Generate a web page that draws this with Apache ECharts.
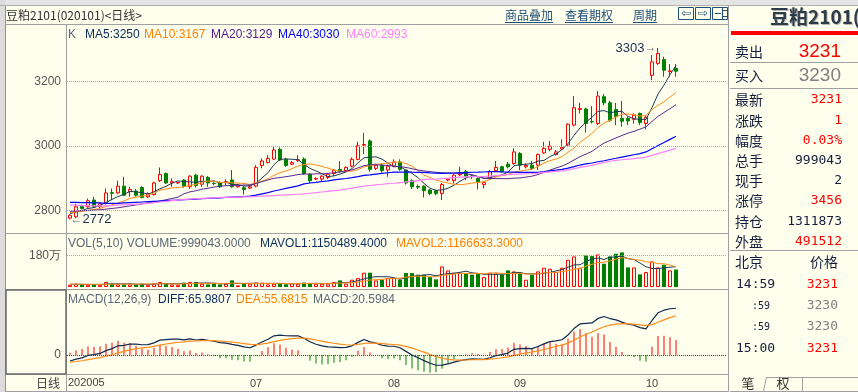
<!DOCTYPE html>
<html>
<head>
<meta charset="utf-8">
<title>豆粕2101 日线</title>
<script src="https://cdn.jsdelivr.net/npm/echarts@6.0.0/dist/echarts.min.js"></script>
<style>
  html, body { margin: 0; padding: 0; background: #FFFFEE; }
  #main { width: 858px; height: 392px; }
</style>
</head>
<body>
<div id="main"></div>
<script>
// trading days on screen
var dates = [
  '2020-05-15','2020-05-18','2020-05-19','2020-05-20','2020-05-21','2020-05-22','2020-05-25','2020-05-26','2020-05-27','2020-05-28','2020-05-29',
  '2020-06-01','2020-06-02','2020-06-03','2020-06-04','2020-06-05','2020-06-08','2020-06-09','2020-06-10','2020-06-11','2020-06-12',
  '2020-06-15','2020-06-16','2020-06-17','2020-06-18','2020-06-19','2020-06-22','2020-06-23','2020-06-24','2020-06-29','2020-06-30',
  '2020-07-01','2020-07-02','2020-07-03','2020-07-06','2020-07-07','2020-07-08','2020-07-09','2020-07-10','2020-07-13','2020-07-14',
  '2020-07-15','2020-07-16','2020-07-17','2020-07-20','2020-07-21','2020-07-22','2020-07-23','2020-07-24','2020-07-27','2020-07-28',
  '2020-07-29','2020-07-30','2020-07-31',
  '2020-08-03','2020-08-04','2020-08-05','2020-08-06','2020-08-07','2020-08-10','2020-08-11','2020-08-12','2020-08-13','2020-08-14',
  '2020-08-17','2020-08-18','2020-08-19','2020-08-20','2020-08-21','2020-08-24','2020-08-25','2020-08-26','2020-08-27','2020-08-28','2020-08-31',
  '2020-09-01','2020-09-02','2020-09-03','2020-09-04','2020-09-07','2020-09-08','2020-09-09','2020-09-10','2020-09-11','2020-09-14',
  '2020-09-15','2020-09-16','2020-09-17','2020-09-18','2020-09-21','2020-09-22','2020-09-23','2020-09-24','2020-09-25','2020-09-28',
  '2020-09-29','2020-09-30',
  '2020-10-09','2020-10-12','2020-10-13','2020-10-14','2020-10-15'
];
// months that get a label on the date axis (the first day carries "202005")
var monthLabels = ['07', '08', '09', '10'];

// daily bars
var opens = [2776,2780,2813,2811,2832,2811,2821,2855,2854,2875,
  2858,2860,2871,2842,2849,2892,2914,2885,2885,2894,
  2873,2909,2881,2902,2884,2885,2886,2894,2873,2870,
  2869,2875,2939,2948,2959,2989,2958,2943,2954,2959,
  2912,2897,2897,2902,2914,2927,2923,2937,2958,3002,
  3015,2930,2940,2925,2937,2950,2925,2892,2874,2875,
  2863,2861,2852,2894,2892,2910,2920,2907,2899,2880,
  2899,2923,2935,2943,2945,2976,2935,2940,2940,2978,
  2989,2973,2990,3002,3064,3112,3114,3075,3069,3152,
  3133,3112,3085,3085,3082,3100,3069,3218,3255,3267,
  3230,3240];
var closes = [2785,2811,2806,2830,2811,2821,2854,2853,2875,2847,
  2865,2847,2840,2852,2885,2911,2885,2889,2886,2875,
  2906,2877,2906,2885,2883,2873,2889,2873,2878,2865,
  2873,2933,2953,2961,2987,2956,2939,2948,2957,2914,
  2892,2899,2906,2912,2925,2920,2933,2958,3000,3004,
  2927,2940,2923,2937,2950,2927,2885,2873,2872,2861,
  2852,2852,2880,2897,2909,2912,2906,2905,2889,2886,
  2920,2933,2920,2935,2981,2940,2939,2930,2973,2992,
  2999,2981,2995,3067,3118,3116,3069,3074,3154,3133,
  3079,3090,3076,3077,3095,3072,3088,3260,3286,3234,
  3232,3231];
var lows = [2772,2776,2803,2808,2808,2806,2818,2832,2850,2845,
  2842,2843,2837,2838,2846,2888,2882,2873,2882,2870,
  2867,2871,2873,2873,2878,2870,2878,2870,2870,2849,
  2866,2871,2930,2945,2956,2953,2935,2940,2950,2910,
  2885,2894,2889,2897,2906,2917,2918,2933,2955,2974,
  2920,2925,2917,2904,2933,2923,2880,2866,2866,2840,
  2847,2847,2832,2890,2883,2906,2894,2897,2865,2868,
  2894,2920,2917,2930,2940,2925,2930,2925,2925,2975,
  2983,2970,2987,2999,3060,3100,3041,3069,3064,3125,
  3074,3064,3059,3064,3069,3064,3051,3203,3250,3214,
  3214,3214];
var highs = [2788,2821,2818,2837,2842,2825,2868,2868,2892,2904,
  2873,2866,2875,2856,2889,2933,2917,2899,2888,2896,
  2909,2913,2909,2906,2887,2890,2896,2925,2881,2875,
  2878,2940,2961,2971,2999,2995,2963,2953,2971,2964,
  2915,2902,2909,2915,2928,2953,2936,2964,3012,3040,
  3020,2945,2945,2942,2958,2958,2927,2896,2880,2878,
  2866,2864,2885,2899,2912,2935,2925,2912,2902,2890,
  2925,2953,2938,2950,2992,2981,2945,2953,2976,3012,
  3015,2987,3020,3070,3154,3133,3118,3123,3170,3160,
  3139,3133,3139,3090,3100,3103,3095,3281,3303,3276,
  3253,3253];
var volumes = [130000,190000,130000,130000,150000,130000,285000,190000,150000,150000,
  150000,150000,190000,130000,190000,285000,190000,150000,130000,250000,
  285000,285000,190000,150000,190000,150000,190000,380000,95000,190000,
  190000,250000,250000,150000,190000,190000,150000,230000,190000,250000,
  190000,190000,190000,190000,285000,380000,190000,420000,510000,817000,
  817000,380000,418000,513000,513000,418000,798000,798000,703000,703000,
  570000,437000,1178000,950000,817000,817000,760000,703000,798000,570000,
  817000,760000,703000,950000,893000,817000,418000,703000,893000,1102000,
  1045000,855000,1102000,1558000,1748000,1102000,1805000,1767000,1862000,1330000,
  1748000,1900000,1976000,1121000,1121000,722000,855000,1463000,1121000,1273000,
  950000,999043];

var ma5Head = [2790, 2795, 2800, 2806];
var ma10Head = [2793, 2795, 2797, 2800, 2803, 2806, 2812, 2817, 2823];
var ma20Head = [2797, 2798, 2799, 2800, 2801, 2802, 2804, 2806, 2808, 2811,
  2814, 2817, 2820, 2823, 2826, 2829, 2833, 2837, 2841];
var ma40Head = [2825, 2825, 2824, 2824, 2823, 2823, 2822, 2822, 2822, 2823,
  2824, 2825, 2826, 2827, 2828, 2829, 2830, 2831, 2832, 2833,
  2834, 2835, 2836, 2837, 2838, 2839, 2840, 2841, 2842, 2843,
  2844, 2847, 2851, 2855, 2860, 2864, 2868, 2872, 2876];
var ma60Head = [2816, 2816, 2815, 2815, 2814, 2814, 2814, 2815, 2816, 2817,
  2818, 2819, 2820, 2822, 2824, 2826, 2828, 2830, 2832, 2834,
  2835, 2836, 2837, 2838, 2839, 2840, 2840, 2841, 2841, 2842,
  2842, 2843, 2844, 2845, 2846, 2847, 2848, 2849, 2850, 2851,
  2853, 2855, 2857, 2859, 2861, 2863, 2866, 2869, 2872, 2875,
  2877, 2879, 2881, 2883, 2884, 2886, 2888, 2890, 2892];
var mavol5Head = [150000, 155000, 150000, 145000];
var mavol10Head = [160000, 160000, 158000, 155000, 152000, 150000, 155000, 160000, 160000];
var macdStart = { diff: -8.5, dea: -10 };

var priceTicks = [2800, 3000, 3200];
var volTicks = [1800000];

var UP = '#FF0000', DOWN = '#008000';
var NUM = '"Liberation Sans", Arial, sans-serif';
var CJK = '"Noto Sans CJK SC", sans-serif';

function movingAvg(vals, n, head) {
  return vals.map(function (v, i) {
    if (i < n - 1) return head[i];
    var s = 0;
    for (var k = i - n + 1; k <= i; k++) s += vals[k];
    return +(s / n).toFixed(2);
  });
}

function calcMacd(c) {
  var e12 = c[0], e26 = c[0] - macdStart.diff, dea = macdStart.dea;
  var out = { diff: [], dea: [], bar: [] };
  for (var i = 0; i < c.length; i++) {
    if (i > 0) {
      e12 += (c[i] - e12) * 2 / 13;
      e26 += (c[i] - e26) * 2 / 27;
    }
    var d = e12 - e26;
    if (i > 0) dea += (d - dea) * 2 / 10;
    out.diff.push(+d.toFixed(3));
    out.dea.push(+dea.toFixed(3));
    out.bar.push(+(2 * (d - dea)).toFixed(3));
  }
  return out;
}

var cats = dates.concat(['', '', '', '', '', '', '', '']);
var kData = dates.map(function (d, i) { return [opens[i], closes[i], lows[i], highs[i]]; });
var isUp = dates.map(function (d, i) { return closes[i] >= opens[i]; });
var macd = calcMacd(closes);

var hiIdx = highs.indexOf(Math.max.apply(null, highs));
var loIdx = lows.indexOf(Math.min.apply(null, lows));

// ---- static frame, header, legends and the quote panel ----
var G = [];
function line(x1, y1, x2, y2, c, w) {
  G.push({ type: 'line', silent: true, shape: { x1: x1, y1: y1, x2: x2, y2: y2 },
    style: { stroke: c || '#A0A0A0', lineWidth: w || 1 } });
}
function rect(x, y, w, h, fill, stroke, lw) {
  G.push({ type: 'rect', silent: true, shape: { x: x, y: y, width: w, height: h },
    style: { fill: fill || 'none', stroke: stroke || null, lineWidth: lw || 1 } });
}
function text(x, y, s, color, font, align) {
  G.push({ type: 'text', silent: true, x: x, y: y, z: 10,
    style: { text: s, fill: color, font: font, align: align || 'left', verticalAlign: 'middle' } });
}

rect(0, 0, 858, 5, '#E4E4E4');
rect(0, 0, 5, 392, '#DCDCDC');
line(5.5, 5, 5.5, 392, '#909090');
line(0, 5.5, 858, 5.5, '#B0B0B0');
line(5, 24.5, 729, 24.5);
line(66.5, 24, 66.5, 392);
line(728.5, 5, 728.5, 392);
line(5, 233.5, 729, 233.5);
line(5, 289.5, 729, 289.5);
line(5, 374.5, 729, 374.5);
line(5, 391.5, 729, 391.5);
rect(6, 290, 60, 84, 'none', '#6A6A6A', 1.5);

text(6, 15, '豆粕2101(020101)<日线>', '#333333', '12px ' + CJK);
[['商品叠加', 505], ['查看期权', 565], ['周期', 633]].forEach(function (l) {
  text(l[1], 15, l[0], '#1F4E79', '12px ' + CJK);
  line(l[1], 22.5, l[1] + l[0].length * 12, 22.5, '#1F4E79');
});
rect(678.5, 7.5, 15, 12, 'none', '#1F4E79');
rect(695.5, 7.5, 15, 12, 'none', '#1F4E79');
rect(712.5, 7.5, 15, 12, 'none', '#1F4E79');
text(686, 14, '⇦', '#1F4E79', '12px "DejaVu Sans"', 'center');
text(703, 14, '⇨', '#1F4E79', '12px "DejaVu Sans"', 'center');
line(722.5, 8, 722.5, 19, '#1F4E79');
line(715, 13.5, 721, 13.5, '#1F4E79');
line(723, 10.5, 727, 10.5, '#1F4E79');
line(723, 16.5, 727, 16.5, '#1F4E79');

var kLegend = [['K', '#5A6675', 68], ['MA5:3250', '#0A2D5C', 85], ['MA10:3167', '#FF8000', 144],
  ['MA20:3129', '#4E1A8E', 211], ['MA40:3030', '#0000F0', 278], ['MA60:2993', '#FF80FF', 346]];
var volLegend = [['VOL(5,10) VOLUME:999043.0000', '#5A6675', 68], ['MAVOL1:1150489.4000', '#0A2D5C', 260],
  ['MAVOL2:1166633.3000', '#FF8000', 396]];
var macdLegend = [['MACD(12,26,9)', '#5A6675', 68], ['DIFF:65.9807', '#0A2D5C', 158],
  ['DEA:55.6815', '#FF8000', 236], ['MACD:20.5984', '#5A6675', 313]];
kLegend.forEach(function (l) { text(l[2], 35, l[0], l[1], '12px ' + NUM); });
volLegend.forEach(function (l) { text(l[2], 244, l[0], l[1], '12px ' + NUM); });
macdLegend.forEach(function (l) { text(l[2], 300, l[0], l[1], '12px ' + NUM); });

text(60, 383, '日线', '#444444', '12px ' + CJK, 'right');
text(68, 383, '202005', '#444444', '11px ' + NUM);

// quote panel
text(771, 18, '豆粕2101(020101)', '#B8B8B8', 'bold 19px ' + CJK);
text(770, 17, '豆粕2101(020101)', '#2E3B48', 'bold 19px ' + CJK);
rect(731, 31, 127, 4, '#FF0000');
text(735, 52, '卖出', '#141E3C', '14px ' + CJK);
text(841, 52, '3231', UP, '19px ' + NUM, 'right');
line(730, 62.5, 858, 62.5);
text(735, 76, '买入', '#141E3C', '14px ' + CJK);
text(841, 76, '3230', '#808080', '19px ' + NUM, 'right');
line(730, 88.5, 858, 88.5);
var quoteRows = [['最新', '3231', UP], ['涨跌', '1', UP], ['幅度', '0.03%', UP], ['总手', '999043', '#141E3C'],
  ['现手', '2', '#141E3C'], ['涨停', '3456', UP], ['持仓', '1311873', '#141E3C'], ['外盘', '491512', UP]];
quoteRows.forEach(function (r, i) {
  var y = 100 + i * 20.2;
  text(735, y, r[0], '#141E3C', '14px ' + CJK);
  text(842, y, r[1], r[2], '13px "DejaVu Sans Mono", monospace', 'right');
});
line(730, 250.5, 858, 250.5);
text(735, 262, '北京', '#141E3C', '14px ' + CJK);
text(824, 262, '价格', '#141E3C', '14px ' + CJK, 'center');
var ticks = [['14:59', '3231', UP, 285, 736, 13], [':59', '3230', '#808080', 306, 752, 10],
  [':59', '3230', '#808080', 327, 752, 10], ['15:00', '3231', UP, 349, 736, 13]];
ticks.forEach(function (t) {
  text(t[4], t[3], t[0], '#141E3C', t[5] + 'px "DejaVu Sans Mono", monospace');
  text(838, t[3], t[1], t[2], '13px "DejaVu Sans Mono", monospace', 'right');
});
line(766, 377.5, 858, 377.5);
line(766.5, 377, 763.5, 391);
line(802.5, 377, 802.5, 391);
line(730, 391.5, 858, 391.5);
text(748, 383, '笔', '#333333', '13px ' + CJK, 'center');
text(783, 383, '权', '#333333', '13px ' + CJK, 'center');

// ---- chart ----
var myChart = echarts.init(document.getElementById('main'));

function isMonthStart(i) {
  var d = cats[i];
  return i > 0 && d !== '' && d.slice(5, 7) !== dates[i - 1].slice(5, 7) &&
    monthLabels.indexOf(d.slice(5, 7)) >= 0;
}

function catAxis(idx, showLabel) {
  return {
    type: 'category', gridIndex: idx, data: cats, boundaryGap: true,
    axisLine: { show: false }, axisTick: { show: false }, splitLine: { show: false },
    axisLabel: showLabel ? {
      show: true, color: '#444444', fontSize: 11, fontFamily: NUM, margin: 4,
      interval: function (i) { return isMonthStart(i); },
      formatter: function (v) { return v.slice(5, 7); }
    } : { show: false }
  };
}
function valAxis(idx, min, max, custom, fmt) {
  return {
    type: 'value', gridIndex: idx, min: min, max: max, scale: true,
    axisLine: { show: false }, axisTick: { show: false }, splitLine: { show: false },
    axisLabel: { show: true, customValues: custom, color: '#555555', fontSize: 12, fontFamily: NUM,
      margin: 6, formatter: fmt }
  };
}
function maLine(name, data, color, xi, w) {
  return { name: name, type: 'line', data: data, xAxisIndex: xi, yAxisIndex: xi, showSymbol: false,
    silent: true, lineStyle: { color: color, width: w || 1 }, z: 3 };
}

var option = {
  animation: false,
  backgroundColor: '#FFFFEE',
  graphic: G,
  grid: [
    { left: 67, right: 131, top: 25, height: 208 },
    { left: 67, right: 131, top: 234, height: 53 },
    { left: 67, right: 131, top: 290, height: 84 }
  ],
  xAxis: [catAxis(0, false), catAxis(1, false), catAxis(2, true)],
  yAxis: [
    valAxis(0, 2730, 3374, priceTicks, function (v) { return String(v); }),
    valAxis(1, 0, 3030000, volTicks, function (v) { return (v / 10000) + '万'; }),
    valAxis(2, -26.8, 91.5, [0], function (v) { return String(v); })
  ],
  series: [
    {
      name: 'K', type: 'candlestick', data: kData, xAxisIndex: 0, yAxisIndex: 0, barWidth: 4,
      itemStyle: { color: 'rgba(0,0,0,0)', color0: DOWN, borderColor: UP, borderColor0: DOWN, borderWidth: 1 },
      markLine: {
        silent: true, symbol: 'none', label: { show: false },
        lineStyle: { color: '#A8A8A8', type: 'dotted', width: 1 },
        data: priceTicks.map(function (v) { return { yAxis: v }; })
      },
      markPoint: {
        silent: true, symbol: 'rect', symbolSize: 1, itemStyle: { color: 'rgba(0,0,0,0)' },
        data: [
          { coord: [hiIdx, highs[hiIdx]], label: { show: true, position: 'left', distance: 1,
            formatter: '{n|' + highs[hiIdx] + '}{a|→}',
            rich: { n: { color: '#1A2E50', fontSize: 13, fontFamily: NUM }, a: { color: '#707070', fontSize: 12 } } } },
          { coord: [loIdx, lows[loIdx]], label: { show: true, position: 'right', distance: 0,
            formatter: '{a|←}{n|' + lows[loIdx] + '}',
            rich: { n: { color: '#1A2E50', fontSize: 13, fontFamily: NUM }, a: { color: '#707070', fontSize: 12 } } } }
        ]
      }
    },
    maLine('MA5', movingAvg(closes, 5, ma5Head), '#1E3A5A', 0, 1),
    maLine('MA10', movingAvg(closes, 10, ma10Head), '#FF8C1A', 0, 1),
    maLine('MA20', movingAvg(closes, 20, ma20Head), '#5B2A94', 0, 1),
    maLine('MA40', movingAvg(closes, 40, ma40Head), '#0000FF', 0, 1.2),
    maLine('MA60', movingAvg(closes, 60, ma60Head), '#FF80FF', 0, 1.2),
    {
      name: 'VOL', type: 'bar', xAxisIndex: 1, yAxisIndex: 1, barWidth: 4, silent: true,
      data: volumes.map(function (v, i) {
        return { value: v, itemStyle: isUp[i]
          ? { color: 'rgba(0,0,0,0)', borderColor: UP, borderWidth: 1 }
          : { color: DOWN } };
      }),
      markLine: {
        silent: true, symbol: 'none', label: { show: false },
        lineStyle: { color: '#A8A8A8', type: 'dotted', width: 1 },
        data: volTicks.map(function (v) { return { yAxis: v }; })
      }
    },
    maLine('MAVOL1', movingAvg(volumes, 5, mavol5Head), '#1E3A5A', 1, 1),
    maLine('MAVOL2', movingAvg(volumes, 10, mavol10Head), '#FF8C1A', 1, 1),
    {
      name: 'MACD', type: 'bar', xAxisIndex: 2, yAxisIndex: 2, barWidth: 1, silent: true,
      data: macd.bar.map(function (v) { return { value: v, itemStyle: { color: v >= 0 ? UP : DOWN } }; }),
      markLine: {
        silent: true, symbol: 'none', label: { show: false },
        lineStyle: { color: '#404040', type: 'dotted', width: 1 },
        data: [{ yAxis: 0 }]
      }
    },
    maLine('DIFF', macd.diff, '#0F2850', 2, 1.2),
    maLine('DEA', macd.dea, '#FF8C1A', 2, 1.2)
  ]
};
myChart.setOption(option);
</script>
</body>
</html>
